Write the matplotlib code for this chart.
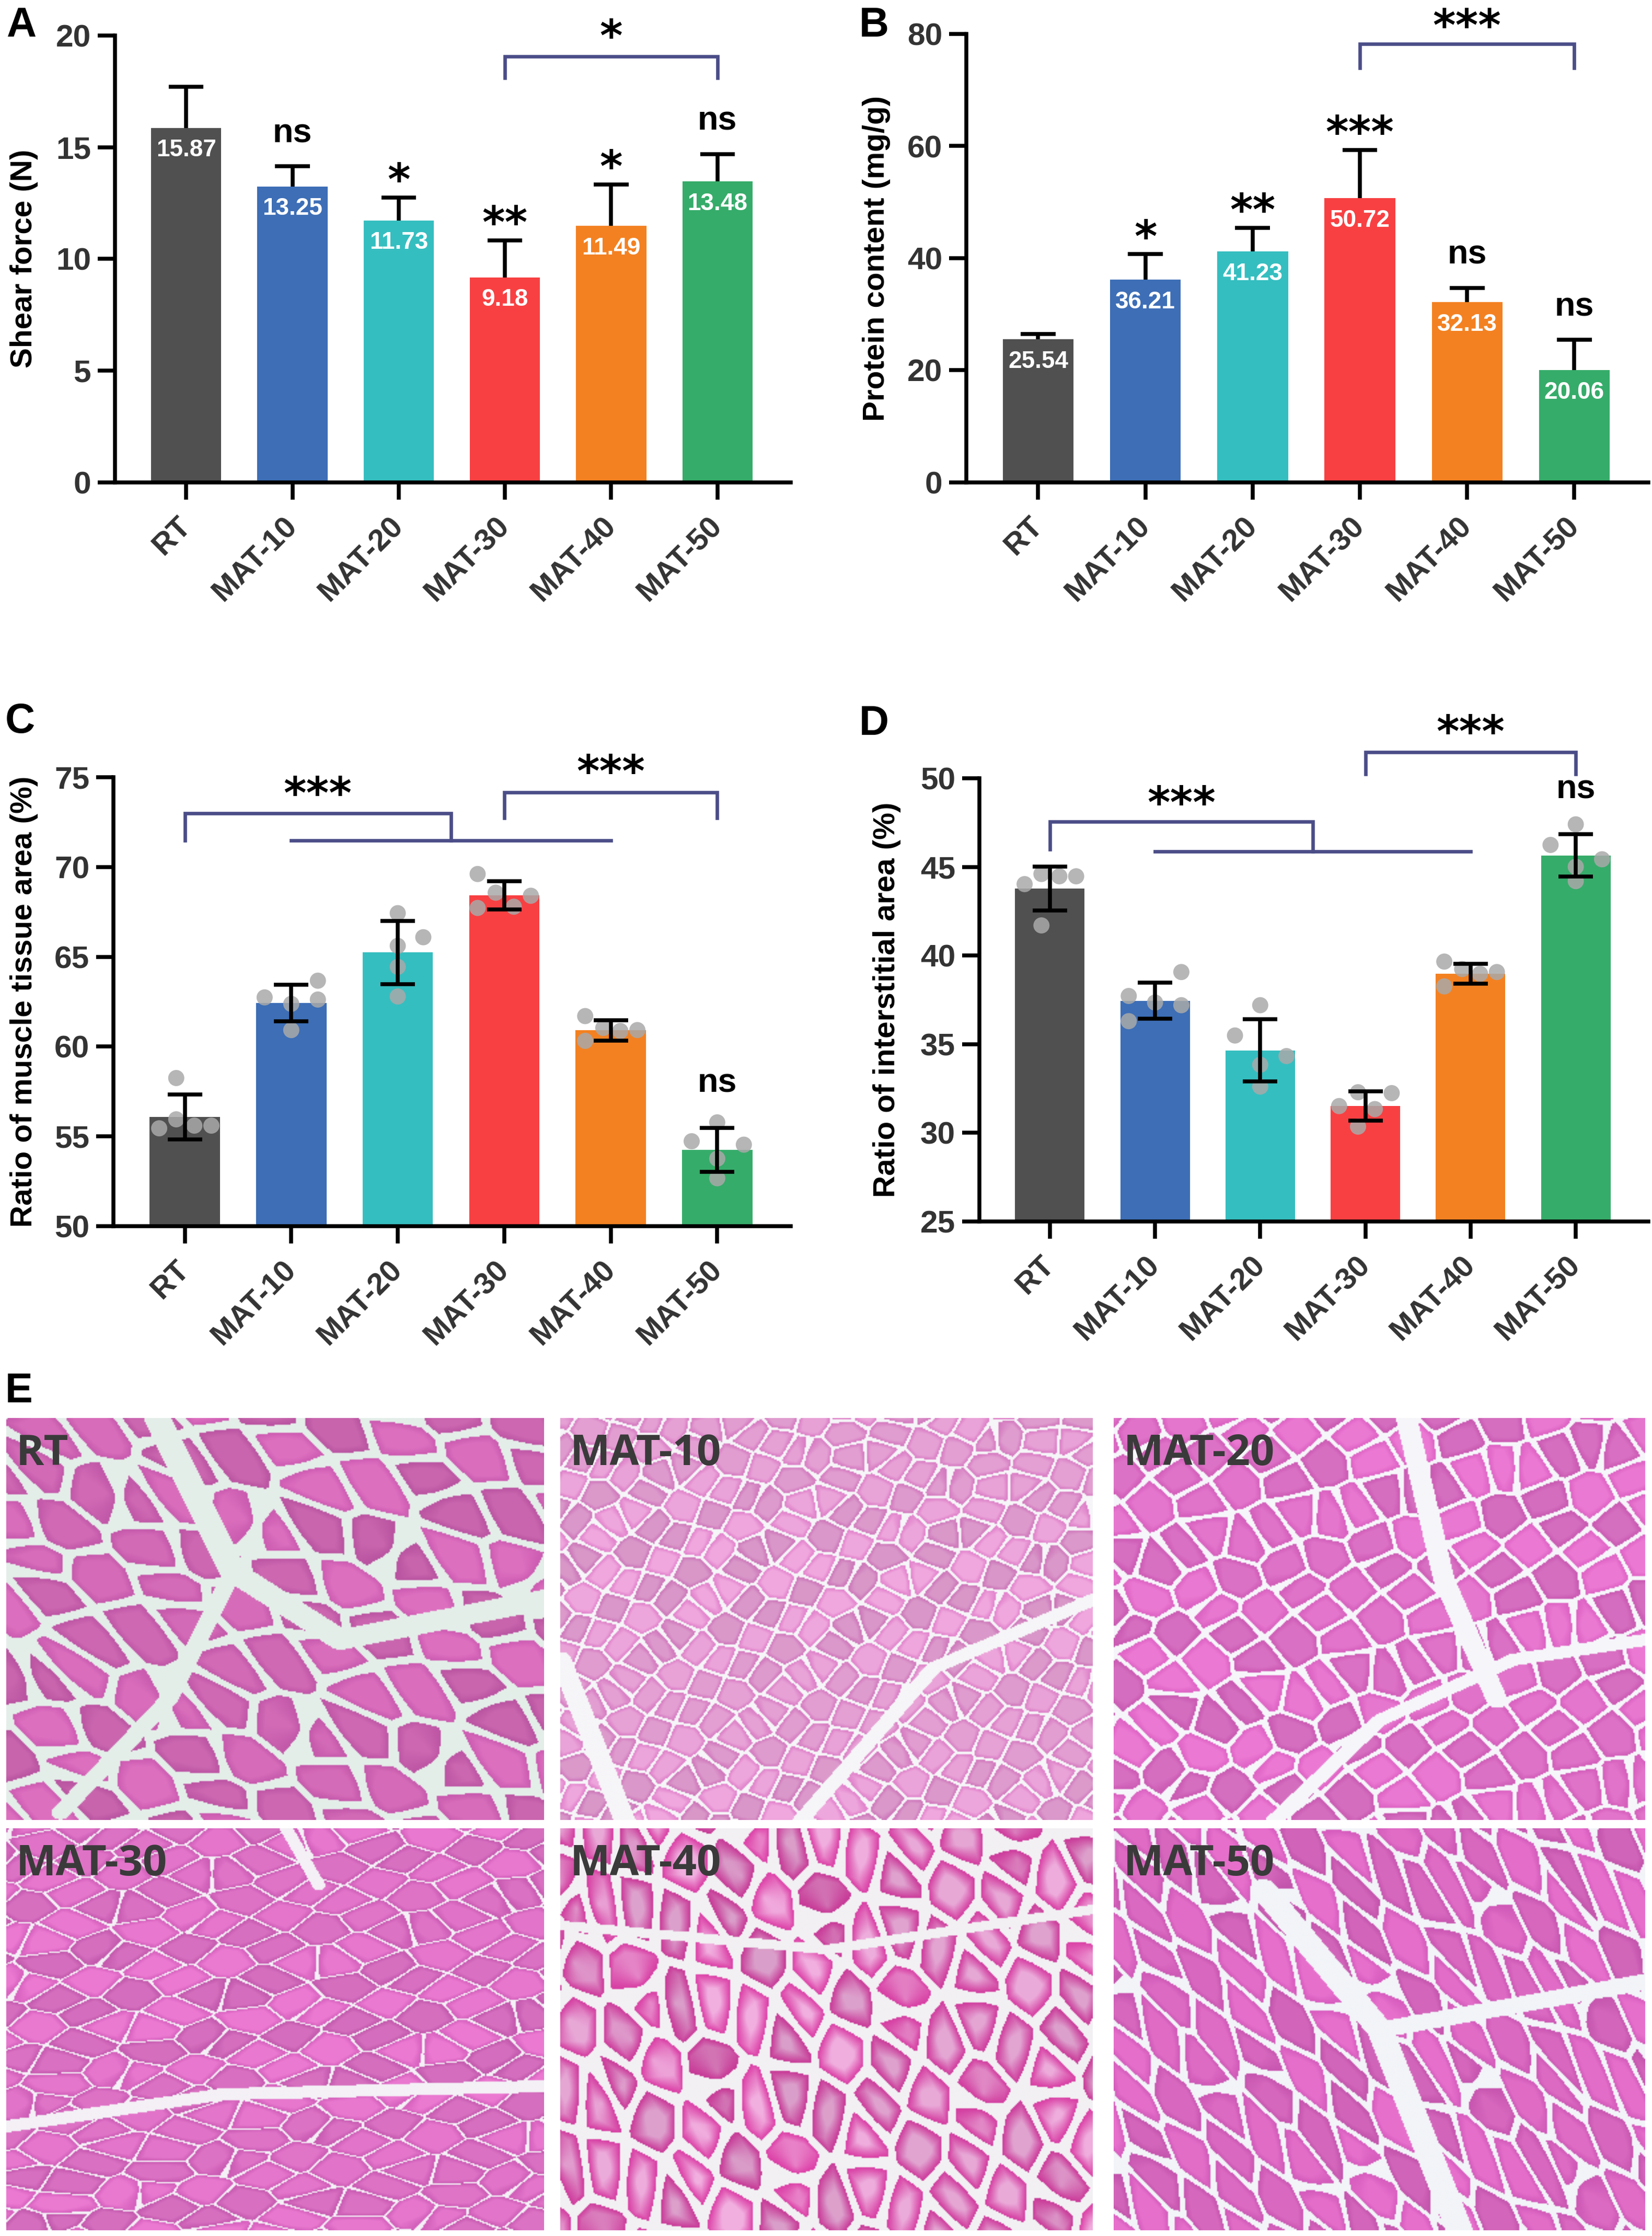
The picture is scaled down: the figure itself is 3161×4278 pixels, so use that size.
import numpy as np
import matplotlib
matplotlib.use("Agg")
import matplotlib.pyplot as plt

plt.rcParams['font.family'] = ['Liberation Sans', 'DejaVu Sans']

# ---- data -------------------------------------------------------------
groups = ["RT", "MAT-10", "MAT-20", "MAT-30", "MAT-40", "MAT-50"]
bar_colors = ["#505050", "#3d6eb6", "#35bec0", "#f84042", "#f38121", "#36ac6a"]

shear_mean = [15.87, 13.25, 11.73, 9.18, 11.49, 13.48]
shear_sd = [1.83, 0.90, 1.02, 1.65, 1.84, 1.22]
shear_marks = ["", "ns", "*", "**", "*", "ns"]

protein_mean = [25.54, 36.21, 41.23, 50.72, 32.13, 20.06]
protein_sd = [0.96, 4.50, 4.20, 8.60, 2.60, 5.40]
protein_marks = ["", "*", "**", "***", "ns", "ns"]

muscle_mean = [56.07, 62.43, 65.24, 68.42, 60.90, 54.25]
muscle_sd = [1.25, 1.03, 1.76, 0.78, 0.56, 1.22]
muscle_points = [
    [58.25, 55.45, 55.95, 55.60, 55.60],
    [62.74, 62.38, 63.67, 62.62, 60.92],
    [67.43, 66.09, 65.61, 64.44, 62.79],
    [69.61, 68.57, 68.40, 67.72, 67.79],
    [61.70, 61.04, 60.87, 60.92, 60.32],
    [54.73, 55.78, 54.54, 53.76, 52.67],
]
muscle_marks = ["", "", "", "", "", "ns"]

inter_mean = [43.79, 37.45, 34.65, 31.51, 38.97, 45.65]
inter_sd = [1.24, 1.02, 1.75, 0.83, 0.55, 1.20]
inter_points = [
    [44.03, 44.60, 44.47, 44.47, 41.70],
    [37.72, 37.35, 39.07, 37.20, 36.30],
    [37.20, 35.49, 34.33, 33.84, 32.61],
    [31.51, 32.29, 32.24, 31.34, 30.35],
    [39.66, 39.24, 38.97, 39.07, 38.26],
    [46.24, 47.40, 45.43, 45.01, 44.20],
]
inter_marks = ["", "", "", "", "", "ns"]

# ---- layout -----------------------------------------------------------
W, H = 3162, 4278
BRACKET = "#4a4d87"
TICK_GRAY = "#333333"
LW = 1.8

# horizontal scatter of the replicate dots (fraction of bar spacing)
muscle_jitter = [
    [-0.08, -0.24, -0.08, 0.09, 0.25],
    [-0.25, 0.0, 0.25, 0.25, 0.0],
    [0.0, 0.24, 0.0, 0.0, 0.0],
    [-0.25, -0.08, 0.25, -0.25, 0.09],
    [-0.24, -0.07, 0.09, 0.25, -0.24],
    [-0.24, 0.0, 0.25, 0.0, 0.0],
]
inter_jitter = [
    [-0.24, -0.08, 0.09, 0.25, -0.08],
    [-0.25, 0.0, 0.25, 0.25, -0.25],
    [0.0, -0.24, 0.25, 0.0, 0.0],
    [-0.25, -0.07, 0.25, 0.09, -0.07],
    [-0.25, -0.08, 0.09, 0.25, -0.25],
    [-0.24, 0.0, 0.25, 0.0, 0.0],
]


def box(left, right, top, bottom):
    return [left / W, 1 - bottom / H, (right - left) / W, (bottom - top) / H]


fig = plt.figure(figsize=(W / 300, H / 300), dpi=300)


def style_axes(ax, ylim, yticks):
    x = np.arange(len(groups))
    ax.set_xlim(-0.67, 5.69)
    ax.set_ylim(*ylim)
    ax.set_yticks(yticks)
    ax.set_xticks(x)
    ax.set_xticklabels(groups, rotation=45, ha="right", va="center",
                       rotation_mode="anchor", fontsize=14, fontweight="bold",
                       color=TICK_GRAY)
    for lab in ax.get_yticklabels():
        lab.set_fontsize(14.5)
        lab.set_fontweight("bold")
        lab.set_color(TICK_GRAY)
    for side in ["top", "right"]:
        ax.spines[side].set_visible(False)
    for side in ["left", "bottom"]:
        ax.spines[side].set_linewidth(LW)
    ax.tick_params(axis="both", length=8, width=LW)
    ax.tick_params(axis="y", pad=3)
    ax.tick_params(axis="x", pad=10)


def put_mark(ax, x, y, mark, offset):
    if not mark:
        return
    if "*" in mark:
        ax.annotate(mark, xy=(x, y), xytext=(0, offset - 11.1),
                    textcoords="offset points", ha="center", va="baseline",
                    fontsize=20, fontweight="bold", family="DejaVu Sans",
                    annotation_clip=False)
    else:
        ax.annotate(mark, xy=(x, y), xytext=(0, offset + 1.5 - 4.0),
                    textcoords="offset points", ha="center", va="baseline",
                    fontsize=15.5, fontweight="bold", annotation_clip=False)


def bracket(ax, x0, x1, y, leg0, leg1):
    ax.plot([x0, x0, x1, x1], [leg0, y, y, leg1], color=BRACKET, lw=1.6,
            clip_on=False, solid_joinstyle="miter")


def plain_panel(ax, means, sds, marks, ylim, yticks):
    x = np.arange(len(groups))
    tops = np.array(means) + np.array(sds)
    ax.bar(x, means, width=0.66, color=bar_colors, zorder=2)
    # one-sided (upper) error bars, cap only at the top
    ax.vlines(x, means, tops, color="black", lw=LW, zorder=1)
    ax.hlines(tops, x - 0.163, x + 0.163, color="black", lw=LW, zorder=1)
    for i, (m, s) in enumerate(zip(means, sds)):
        ax.annotate(f"{m:.2f}", xy=(i, m), xytext=(0, -10.3),
                    textcoords="offset points", ha="center", va="center",
                    color="white", fontsize=11, fontweight="bold")
        put_mark(ax, i, m + s, marks[i], 12.5 if "*" in marks[i] else 13.5)
    style_axes(ax, ylim, yticks)


def dot_panel(ax, means, sds, points, jitter, marks, ylim, yticks):
    x = np.arange(len(groups))
    ax.bar(x, means, width=0.66, color=bar_colors, zorder=2)
    for i, (pts, jit) in enumerate(zip(points, jitter)):
        ax.scatter(i + np.array(jit), pts, s=55, color="#a9a9a9", alpha=0.85,
                   edgecolors="none", zorder=3, clip_on=False)
    ax.errorbar(x, means, yerr=sds, fmt="none", ecolor="black",
                elinewidth=LW, capsize=8, capthick=LW, zorder=4)
    for i, (m, s) in enumerate(zip(means, sds)):
        put_mark(ax, i, m + s, marks[i], 19)
    style_axes(ax, ylim, yticks)


# ---- A: shear force ---------------------------------------------------
axA = fig.add_axes(box(220, 1513, 68, 923))
plain_panel(axA, shear_mean, shear_sd, shear_marks, (0, 20), [0, 5, 10, 15, 20])
bracket(axA, 3, 5, 19.07, 18.1, 18.1)
put_mark(axA, 4, 20.4, "*", 0)

# ---- B: protein content -----------------------------------------------
axB = fig.add_axes(box(1849, 3154, 65, 923))
plain_panel(axB, protein_mean, protein_sd, protein_marks, (0, 80), [0, 20, 40, 60, 80])
bracket(axB, 3, 5, 78.2, 73.9, 73.9)
put_mark(axB, 4, 83.2, "***", 0)

# ---- C: muscle tissue area --------------------------------------------
axC = fig.add_axes(box(217, 1513, 1487, 2346))
dot_panel(axC, muscle_mean, muscle_sd, muscle_points, muscle_jitter, muscle_marks,
          (50, 75), [50, 55, 60, 65, 70, 75])
bracket(axC, 0, 2.5, 72.99, 71.48, 71.48)
axC.plot([1, 4], [71.48, 71.48], color=BRACKET, lw=1.6, clip_on=False)
put_mark(axC, 1.25, 74.64, "***", 0)
bracket(axC, 3, 5, 74.15, 72.74, 72.74)
put_mark(axC, 4, 75.85, "***", 0)

# ---- D: interstitial area ---------------------------------------------
axD = fig.add_axes(box(1874, 3154, 1489, 2337))
dot_panel(axD, inter_mean, inter_sd, inter_points, inter_jitter, inter_marks,
          (25, 50), [25, 30, 35, 40, 45, 50])
bracket(axD, 0, 2.5, 47.54, 46.0, 45.87)
axD.plot([1, 4], [45.87, 45.87], color=BRACKET, lw=1.6, clip_on=False)
put_mark(axD, 1.25, 49.14, "***", 0)
bracket(axD, 3, 5, 51.47, 50.24, 50.24)
put_mark(axD, 4, 53.17, "***", 0)

# axis titles
ylabels = [
    ("Shear force (N)", 46, 495),
    ("Protein content (mg/g)", 1677, 494),
    ("Ratio of muscle tissue area (%)", 46, 1916),
    ("Ratio of interstitial area (%)", 1697, 1913),
]
for text, px, py in ylabels:
    fig.text(px / W, 1 - py / H, text, rotation=90, ha="center", va="center",
             fontsize=14, fontweight="bold")

# panel letters
for letter, px, py in [("A", 12, 12), ("B", 1644, 12), ("C", 10, 1344),
                       ("D", 1644, 1348), ("E", 10, 2625)]:
    fig.text(px / W, 1 - py / H, letter, ha="left", va="top",
             fontsize=19, fontweight="bold")


# ---- E: H&E micrographs (drawn as stylised tissue) ----------------------
def seg_dist(X, Y, pts):
    best = np.full(X.shape, 9.0)
    for (ax0, ay0), (ax1, ay1) in zip(pts[:-1], pts[1:]):
        dx, dy = ax1 - ax0, ay1 - ay0
        t = np.clip(((X - ax0) * dx + (Y - ay0) * dy) / (dx * dx + dy * dy), 0, 1)
        best = np.minimum(best, np.hypot(X - ax0 - t * dx, Y - ay0 - t * dy))
    return best


def tissue(cell, stretch, angle, gap, fill, rim, bg, phase, rivers, soft=0.25,
           h=300, w=401):
    yy, xx = np.mgrid[0:h, 0:w].astype(float)
    a = np.deg2rad(angle)
    cs = cell * h
    u = (xx * np.cos(a) + yy * np.sin(a)) / (cs * stretch)
    v = (-xx * np.sin(a) + yy * np.cos(a)) / cs
    iu, iv = np.floor(u), np.floor(v)
    d1 = np.full(u.shape, 9.0)
    d2 = np.full(u.shape, 9.0)
    cid = np.zeros(u.shape)
    for di in (-1, 0, 1):
        for dj in (-1, 0, 1):
            ci, cj = iu + di, iv + dj
            sx = ci + 0.5 + 0.36 * np.sin(ci * 1.93 + cj * 3.71 + phase)
            sy = cj + 0.5 + 0.36 * np.sin(ci * 2.57 - cj * 1.29 + 2 * phase)
            d = np.hypot(u - sx, v - sy)
            closer = d < d1
            d2 = np.where(closer, d1, np.minimum(d2, d))
            cid = np.where(closer, ci * 7.3 + cj * 13.1, cid)
            d1 = np.where(closer, d, d1)
    edge = d2 - d1
    t = np.clip((edge - gap) / soft, 0, 1)[..., None]
    shade = (0.95 + 0.05 * np.sin(cid * 1.7))[..., None]
    col = (np.array(rim, float) * (1 - t) + np.array(fill, float) * t) * shade
    img = np.where((edge > gap)[..., None], col, np.array(bg, float))
    X, Y = xx / w, yy / h
    for pts, width in rivers:
        img[seg_dist(X, Y, pts) < width] = bg
    return np.clip(img / 255.0, 0, 1)


micro = {
    "RT": dict(cell=0.10, stretch=1.7, angle=28, gap=0.15, fill=(222, 112, 192),
               rim=(205, 92, 178), bg=(228, 238, 233), phase=0.3,
               rivers=[([(0.28, 0.0), (0.42, 0.38), (0.62, 0.55), (1.0, 0.45)], 0.025),
                       ([(0.42, 0.38), (0.30, 0.70), (0.10, 0.98)], 0.017)]),
    "MAT-10": dict(cell=0.065, stretch=1.2, angle=-20, gap=0.09, fill=(240, 168, 222),
                   rim=(226, 128, 204), bg=(246, 245, 248), phase=1.1,
                   rivers=[([(0.45, 1.0), (0.70, 0.62), (1.0, 0.45)], 0.015),
                           ([(0.0, 0.60), (0.12, 1.0)], 0.02)]),
    "MAT-20": dict(cell=0.09, stretch=1.15, angle=10, gap=0.10, fill=(236, 122, 212),
                   rim=(222, 98, 196), bg=(246, 246, 250), phase=2.0,
                   rivers=[([(0.55, 0.0), (0.62, 0.40), (0.72, 0.70)], 0.02),
                           ([(0.30, 1.0), (0.50, 0.75), (0.75, 0.60), (1.0, 0.55)], 0.015)]),
    "MAT-30": dict(cell=0.06, stretch=2.0, angle=-5, gap=0.05, fill=(236, 122, 210),
                   rim=(214, 96, 190), bg=(244, 240, 246), phase=0.7,
                   rivers=[([(0.0, 0.74), (0.40, 0.66), (1.0, 0.64)], 0.015),
                           ([(0.52, 0.0), (0.58, 0.14)], 0.012)]),
    "MAT-40": dict(cell=0.10, stretch=1.45, angle=70, gap=0.17, fill=(242, 176, 224),
                   rim=(220, 62, 166), bg=(242, 240, 243), phase=1.6, soft=0.45,
                   rivers=[([(0.0, 0.24), (0.5, 0.30), (1.0, 0.20)], 0.012)]),
    "MAT-50": dict(cell=0.07, stretch=2.5, angle=55, gap=0.12, fill=(232, 112, 205),
                   rim=(215, 92, 190), bg=(242, 244, 248), phase=2.4,
                   rivers=[([(0.28, 0.15), (0.50, 0.50), (0.65, 1.0)], 0.025),
                           ([(0.50, 0.50), (1.0, 0.38)], 0.02)]),
}

cols = [(12, 1041), (1072, 2091), (2131, 3148)]
rows = [(2713, 3482), (3498, 4267)]
for k, name in enumerate(groups):
    (x0, x1), (y0, y1) = cols[k % 3], rows[k // 3]
    ax = fig.add_axes(box(x0, x1, y0, y1))
    ax.imshow(tissue(**micro[name]), aspect="auto", interpolation="bilinear")
    ax.set_axis_off()
    ax.text(0.018, 0.962, name, transform=ax.transAxes, ha="left", va="top",
            fontsize=19.5, fontweight="bold", family=["Open Sans", "DejaVu Sans"],
            color="#3a3a3a")

fig.savefig("out.png", dpi=300, facecolor="white")
